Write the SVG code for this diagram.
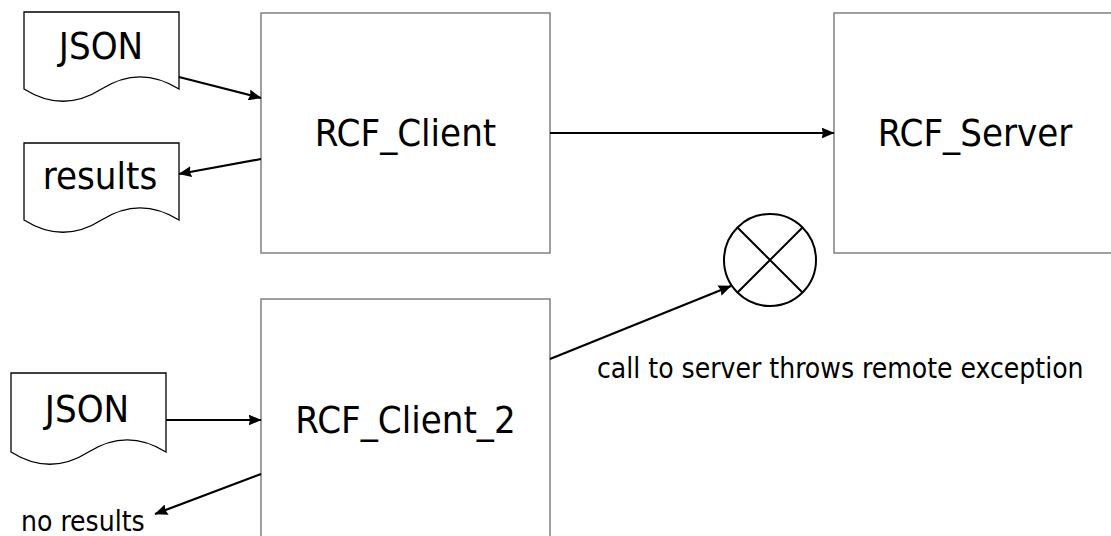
<svg xmlns="http://www.w3.org/2000/svg" width="1111" height="536" viewBox="0 0 1111 536">
  <defs>
    <marker id="arrow" markerWidth="13" markerHeight="11" refX="12.5" refY="5.5" orient="auto" markerUnits="userSpaceOnUse">
      <path d="M0,0 L13,5.5 L0,11 L1.5,5.5 Z" fill="#000"/>
    </marker>
  </defs>
  <style>
    .box { fill: #fff; stroke: #808080; stroke-width: 1.5; }
    .doc { fill: #fff; stroke: #000; stroke-width: 1.3; }
    .edge { fill: none; stroke: #000; stroke-width: 2.2; marker-end: url(#arrow); }
    .big { font-family: "DejaVu Sans Condensed", "DejaVu Sans", sans-serif; font-size: 38px; fill: #000; text-anchor: middle; }
    .small { font-family: "DejaVu Sans Condensed", "DejaVu Sans", sans-serif; font-size: 28px; fill: #000; }
  </style>

  <rect width="1111" height="536" fill="#fff"/>

  <!-- input / output documents -->
  <g id="json-in">
    <path class="doc" d="M24,12 H179 V89 Q140,64.6 101.5,89 Q63,113.5 24,89 Z"/>
    <text class="big" x="101" y="59">JSON</text>
  </g>
  <g id="results">
    <path class="doc" d="M24,143 H179 V220 Q140,195.6 101.5,220 Q63,244.5 24,220 Z"/>
    <text class="big" x="100" y="189">results</text>
  </g>
  <g id="json-in-2">
    <path class="doc" d="M11,373 H166 V452 Q127,427.6 88.5,452 Q50,476.5 11,452 Z"/>
    <text class="big" x="87" y="422">JSON</text>
  </g>

  <!-- processes -->
  <g id="rcf-client">
    <rect class="box" x="261" y="13" width="289" height="240"/>
    <text class="big" x="405.5" y="146">RCF_Client</text>
  </g>
  <g id="rcf-server">
    <rect class="box" x="834" y="13" width="282" height="240"/>
    <text class="big" x="975" y="146">RCF_Server</text>
  </g>
  <g id="rcf-client-2">
    <rect class="box" x="261" y="299" width="289" height="250"/>
    <text class="big" x="405.5" y="433">RCF_Client_2</text>
  </g>

  <!-- failed call marker -->
  <g id="exception">
    <circle cx="770" cy="260" r="46" fill="#fff" stroke="#000" stroke-width="2"/>
    <path d="M737.5,227.5 L802.5,292.5 M802.5,227.5 L737.5,292.5" stroke="#000" stroke-width="2" fill="none"/>
  </g>

  <!-- connectors -->
  <g id="connectors">
    <line class="edge" x1="179" y1="77" x2="261" y2="98"/>
    <line class="edge" x1="261" y1="159" x2="179" y2="174"/>
    <line class="edge" x1="550" y1="133" x2="834" y2="133"/>
    <line class="edge" x1="550" y1="359" x2="731" y2="286"/>
    <line class="edge" x1="166" y1="420" x2="261" y2="420"/>
    <line class="edge" x1="261" y1="474" x2="155" y2="514"/>
  </g>

  <!-- labels -->
  <text class="small" x="597" y="378">call to server throws remote exception</text>
  <text class="small" x="21" y="531">no results</text>
</svg>
